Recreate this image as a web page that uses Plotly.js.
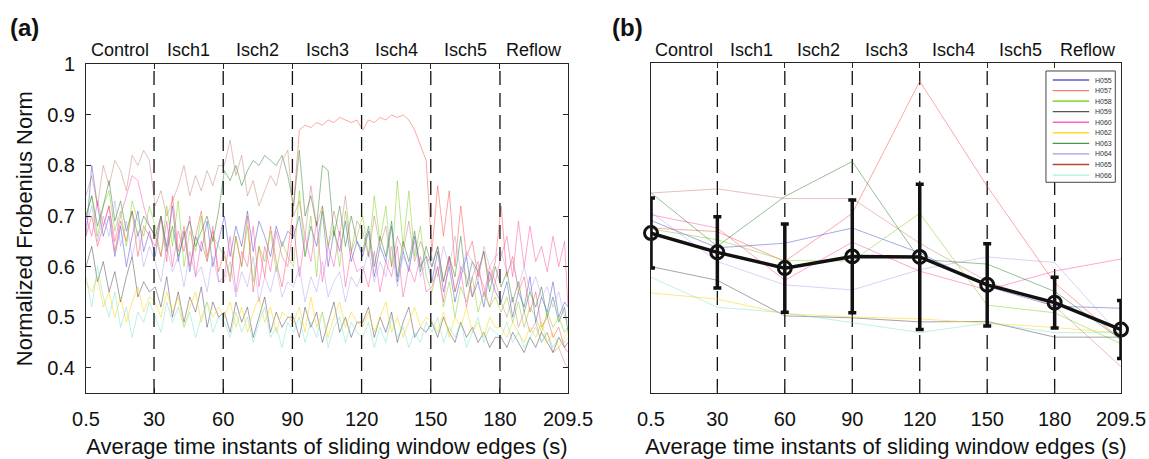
<!DOCTYPE html>
<html>
<head>
<meta charset="utf-8">
<script src="https://cdn.plot.ly/plotly-3.0.1.min.js"></script>
<style>html,body{margin:0;padding:0;background:#fff;}#chart{width:1149px;height:459px;}</style>
</head>
<body>
<div id="chart"></div>
<script>
// ---------- DATA ----------
const seriesNames = ["H055","H057","H058","H059","H060","H062","H063","H064","H065","H066"];
const phaseNames = ["Control","Isch1","Isch2","Isch3","Isch4","Isch5","Reflow"];
const phaseEdges = [0.5, 30, 60, 90, 120, 150, 180, 209.5];
const tickVals = [0.5, 30, 60, 90, 120, 150, 180, 209.5];
const tickText = ["0.5","30","60","90","120","150","180","209.5"];
const yTickVals = [0.4, 0.5, 0.6, 0.7, 0.8, 0.9, 1.0];
const yTickText = ["0.4","0.5","0.6","0.7","0.8","0.9","1"];

// panel (a): sliding-window time instants (0.5 s .. 209.5 s)
const timeA = [];
for (let k = 0; k < 84; k++) timeA.push(0.5 + 2.5 * k);
timeA.push(209.5);

const H055a = [0.66,0.80,0.72,0.66,0.70,0.62,0.68,0.60,0.66,0.71,0.63,0.67,
  0.62,0.70,0.64,0.72,0.61,0.67,0.59,0.66,0.63,0.69,0.60,0.65,
  0.70,0.62,0.68,0.64,0.71,0.63,0.69,0.66,0.62,0.68,0.64,0.67,
  0.66,0.70,0.62,0.68,0.64,0.71,0.60,0.67,0.63,0.69,0.61,0.65,
  0.62,0.67,0.58,0.64,0.61,0.68,0.57,0.63,0.59,0.66,0.60,0.62,
  0.57,0.63,0.55,0.60,0.53,0.58,0.62,0.54,0.57,0.52,0.59,0.55,
  0.53,0.57,0.50,0.55,0.52,0.58,0.49,0.54,0.51,0.57,0.50,0.53,0.52];
const H057a = [0.66,0.70,0.64,0.68,0.72,0.63,0.69,0.65,0.71,0.62,0.68,0.66,
  0.64,0.70,0.61,0.74,0.63,0.68,0.60,0.66,0.71,0.62,0.67,0.59,
  0.63,0.57,0.66,0.60,0.70,0.55,0.64,0.58,0.68,0.61,0.56,0.63,
  0.72,0.87,0.88,0.875,0.885,0.88,0.89,0.885,0.895,0.89,0.885,0.89,
  0.87,0.89,0.885,0.895,0.89,0.90,0.895,0.90,0.89,0.87,0.84,0.81,
  0.63,0.76,0.66,0.75,0.60,0.72,0.62,0.65,0.58,0.63,0.57,0.61,
  0.72,0.58,0.62,0.55,0.58,0.51,0.55,0.48,0.50,0.46,0.48,0.44,0.43];
const H058a = [0.70,0.74,0.66,0.72,0.75,0.67,0.71,0.64,0.73,0.69,0.66,0.72,
  0.68,0.62,0.72,0.64,0.73,0.60,0.67,0.63,0.70,0.61,0.66,0.64,
  0.62,0.58,0.66,0.60,0.68,0.57,0.64,0.61,0.67,0.59,0.65,0.62,
  0.60,0.75,0.62,0.70,0.58,0.72,0.64,0.68,0.60,0.71,0.63,0.66,
  0.70,0.62,0.74,0.65,0.72,0.60,0.77,0.64,0.75,0.62,0.68,0.58,
  0.55,0.60,0.52,0.57,0.50,0.56,0.53,0.58,0.51,0.55,0.52,0.54,
  0.51,0.54,0.49,0.53,0.48,0.52,0.50,0.47,0.51,0.48,0.50,0.47,0.48];
const H059a = [0.60,0.64,0.57,0.61,0.55,0.59,0.53,0.58,0.62,0.54,0.57,0.55,
  0.56,0.52,0.58,0.50,0.55,0.49,0.54,0.51,0.56,0.48,0.53,0.50,
  0.51,0.47,0.53,0.49,0.52,0.46,0.50,0.54,0.47,0.51,0.48,0.50,
  0.50,0.46,0.52,0.48,0.51,0.45,0.49,0.53,0.47,0.50,0.46,0.49,
  0.49,0.52,0.46,0.50,0.47,0.51,0.45,0.49,0.52,0.46,0.48,0.47,
  0.49,0.46,0.50,0.47,0.45,0.49,0.46,0.48,0.45,0.47,0.44,0.46,
  0.46,0.44,0.47,0.45,0.43,0.46,0.44,0.47,0.45,0.43,0.46,0.44,0.45];
const H060a = [0.70,0.66,0.73,0.68,0.72,0.65,0.70,0.74,0.78,0.77,0.72,0.68,
  0.66,0.62,0.69,0.60,0.67,0.63,0.70,0.58,0.65,0.61,0.68,0.57,
  0.58,0.66,0.55,0.63,0.60,0.68,0.56,0.64,0.59,0.67,0.62,0.60,
  0.68,0.58,0.66,0.61,0.69,0.57,0.64,0.60,0.67,0.56,0.63,0.59,
  0.60,0.56,0.63,0.55,0.61,0.58,0.64,0.54,0.60,0.57,0.62,0.55,
  0.56,0.60,0.53,0.62,0.55,0.59,0.52,0.58,0.61,0.54,0.60,0.57,
  0.62,0.66,0.58,0.69,0.60,0.68,0.61,0.64,0.59,0.66,0.60,0.65,0.52];
const H062a = [0.57,0.55,0.58,0.52,0.55,0.50,0.54,0.49,0.53,0.56,0.51,0.54,
  0.53,0.50,0.55,0.51,0.54,0.48,0.52,0.55,0.49,0.53,0.50,0.52,
  0.50,0.53,0.48,0.52,0.47,0.51,0.54,0.49,0.52,0.47,0.51,0.50,
  0.49,0.52,0.47,0.54,0.48,0.51,0.46,0.50,0.53,0.48,0.51,0.49,
  0.48,0.51,0.47,0.50,0.53,0.47,0.50,0.46,0.49,0.52,0.48,0.50,
  0.49,0.47,0.51,0.46,0.50,0.48,0.52,0.47,0.49,0.46,0.50,0.48,
  0.48,0.46,0.49,0.47,0.45,0.48,0.46,0.49,0.45,0.47,0.44,0.46,0.47];
const H063a = [0.70,0.74,0.68,0.72,0.77,0.69,0.73,0.67,0.71,0.66,0.70,0.68,
  0.66,0.70,0.63,0.68,0.62,0.66,0.69,0.64,0.67,0.70,0.65,0.71,
  0.79,0.77,0.80,0.76,0.79,0.81,0.80,0.82,0.81,0.80,0.82,0.78,
  0.72,0.83,0.70,0.74,0.68,0.80,0.79,0.66,0.72,0.64,0.70,0.65,
  0.63,0.68,0.60,0.66,0.62,0.69,0.58,0.65,0.61,0.67,0.59,0.64,
  0.60,0.64,0.57,0.62,0.58,0.66,0.56,0.61,0.59,0.63,0.55,0.60,
  0.56,0.59,0.53,0.57,0.51,0.55,0.52,0.56,0.50,0.54,0.49,0.52,0.47];
const H064a = [0.68,0.72,0.65,0.70,0.66,0.73,0.64,0.69,0.62,0.67,0.60,0.64,
  0.61,0.57,0.64,0.59,0.62,0.56,0.63,0.58,0.60,0.55,0.62,0.57,
  0.57,0.61,0.54,0.59,0.56,0.62,0.53,0.58,0.55,0.60,0.54,0.57,
  0.56,0.60,0.53,0.58,0.55,0.61,0.54,0.57,0.59,0.53,0.58,0.56,
  0.59,0.63,0.57,0.61,0.58,0.64,0.56,0.62,0.60,0.65,0.58,0.61,
  0.62,0.58,0.64,0.60,0.66,0.59,0.63,0.61,0.57,0.64,0.60,0.62,
  0.63,0.59,0.61,0.56,0.60,0.55,0.58,0.54,0.56,0.52,0.55,0.50,0.49];
const H065a = [0.74,0.78,0.72,0.80,0.76,0.81,0.79,0.75,0.82,0.80,0.83,0.81,
  0.72,0.75,0.70,0.73,0.76,0.80,0.74,0.78,0.75,0.79,0.76,0.80,
  0.80,0.85,0.78,0.82,0.74,0.77,0.72,0.75,0.78,0.76,0.81,0.83,
  0.70,0.73,0.66,0.76,0.68,0.72,0.64,0.71,0.66,0.74,0.63,0.69,
  0.67,0.62,0.70,0.64,0.68,0.60,0.66,0.63,0.69,0.61,0.65,0.62,
  0.60,0.64,0.57,0.62,0.55,0.60,0.58,0.54,0.59,0.56,0.52,0.57,
  0.53,0.50,0.54,0.48,0.51,0.47,0.49,0.45,0.47,0.43,0.44,0.41,0.40];
const H066a = [0.58,0.52,0.60,0.54,0.50,0.55,0.48,0.52,0.46,0.51,0.49,0.53,
  0.50,0.47,0.53,0.49,0.52,0.48,0.51,0.46,0.50,0.53,0.47,0.50,
  0.49,0.46,0.51,0.47,0.50,0.45,0.49,0.52,0.46,0.48,0.44,0.49,
  0.47,0.50,0.45,0.49,0.46,0.51,0.44,0.48,0.50,0.45,0.49,0.47,
  0.46,0.49,0.44,0.48,0.45,0.50,0.46,0.48,0.44,0.47,0.45,0.49,
  0.47,0.50,0.45,0.48,0.46,0.49,0.44,0.47,0.50,0.45,0.48,0.47,
  0.46,0.49,0.45,0.47,0.44,0.46,0.48,0.45,0.47,0.44,0.46,0.45,0.46];

// panel (b): values at the phase edges
const timeB = [0.5, 30, 60, 90, 120, 150, 180, 209.5];
const H055b = [0.690,0.636,0.645,0.675,0.626,0.560,0.521,0.517];
const H057b = [0.675,0.668,0.609,0.704,0.964,0.757,0.567,0.455];
const H058b = [0.673,0.652,0.611,0.610,0.704,0.523,0.508,0.447];
const H059b = [0.599,0.572,0.502,0.498,0.490,0.491,0.460,0.460];
const H060b = [0.701,0.675,0.572,0.647,0.590,0.553,0.590,0.614];
const H062b = [0.547,0.535,0.506,0.500,0.496,0.488,0.479,0.468];
const H063b = [0.744,0.639,0.737,0.806,0.613,0.604,0.550,0.455];
const H064b = [0.706,0.609,0.563,0.553,0.593,0.618,0.607,0.462];
const H065b = [0.744,0.752,0.733,0.733,0.645,0.570,0.521,0.402];
const H066b = [0.578,0.519,0.508,0.488,0.469,0.488,0.469,0.469];
const meanB = [0.665,0.627,0.596,0.619,0.618,0.563,0.528,0.475];
const errB  = [0.069,0.070,0.087,0.111,0.143,0.081,0.050,0.057];

// ---------- STYLE ----------
const seriesA = [H055a,H057a,H058a,H059a,H060a,H062a,H063a,H064a,H065a,H066a];
const seriesB = [H055b,H057b,H058b,H059b,H060b,H062b,H063b,H064b,H065b,H066b];
const lineColors = ["rgba(80,80,205,0.5)","rgba(255,80,80,0.5)","rgba(110,205,0,0.45)",
  "rgba(50,50,70,0.45)","rgba(255,80,170,0.5)","rgba(255,210,0,0.5)","rgba(50,130,50,0.5)",
  "rgba(160,140,235,0.4)","rgba(175,80,60,0.35)","rgba(110,225,195,0.45)"];
const legendColors = ["#5e5ec8","#ff7a7a","#66cc00","#555555","#ff66bb","#ffd200",
  "#4e944e","#a69ce0","#b04a3c","#a8f0dc"];
const FONT = "Liberation Sans, Arial, Helvetica, sans-serif";
const AX = "#262626";

const traces = [];
seriesA.forEach((s, i) => {
  traces.push({x: timeA, y: s, xaxis: "x", yaxis: "y", type: "scatter", mode: "lines",
    line: {color: lineColors[i], width: 1}, name: seriesNames[i], showlegend: false, hoverinfo: "skip"});
});
seriesB.forEach((s, i) => {
  traces.push({x: timeB, y: s, xaxis: "x2", yaxis: "y2", type: "scatter", mode: "lines",
    line: {color: lineColors[i], width: 1}, name: seriesNames[i], showlegend: false});
});
traces.push({x: timeB, y: meanB, xaxis: "x2", yaxis: "y2", type: "scatter", mode: "none",
  error_y: {type: "data", array: errB, visible: true, color: "#111", thickness: 3.5, width: 4},
  showlegend: false, hoverinfo: "skip"});
traces.push({x: timeB, y: meanB, xaxis: "x2", yaxis: "y2", type: "scatter", mode: "lines+markers",
  cliponaxis: false, line: {color: "#111", width: 3.5},
  marker: {symbol: "circle-open", size: 13, color: "#111", line: {width: 3, color: "#111"}},
  name: "mean", showlegend: false});

// ---------- LAYOUT ----------
const shapes = [];
const annotations = [];
const inner = phaseEdges.slice(1, -1);
inner.forEach(e => {
  shapes.push({type: "line", xref: "x", yref: "y domain", x0: e, x1: e, y0: 0, y1: 1,
    line: {color: "#111", width: 1.3, dash: "14px,8px"}, layer: "above"});
  shapes.push({type: "line", xref: "x2", yref: "y2 domain", x0: e, x1: e, y0: 0, y1: 1,
    line: {color: "#111", width: 1.3, dash: "14px,8px"}, layer: "below"});
});
phaseNames.forEach((p, i) => {
  const c = (phaseEdges[i] + phaseEdges[i + 1]) / 2;
  ["x", "x2"].forEach(ax => {
    annotations.push({text: p, xref: ax, yref: "paper", x: c, y: 1.039, yanchor: "middle",
      xanchor: "center", showarrow: false, font: {family: FONT, size: 18, color: "#111"}});
  });
});
annotations.push({text: "<b>(a)</b>", xref: "paper", yref: "paper", x: -0.0754, y: 1.109,
  xanchor: "left", yanchor: "middle", showarrow: false, font: {family: FONT, size: 24, color: "#111"}});
annotations.push({text: "<b>(b)</b>", xref: "paper", yref: "paper", x: 0.5063, y: 1.109,
  xanchor: "left", yanchor: "middle", showarrow: false, font: {family: FONT, size: 24, color: "#111"}});

// manual compact legend inside panel (b)
shapes.push({type: "rect", xref: "paper", yref: "paper", x0: 0.9275, x1: 0.9945, y0: 0.6385, y1: 0.9758,
  line: {color: "#444", width: 1}, fillcolor: "#fff", layer: "above"});
seriesNames.forEach((n, i) => {
  const yy = (313 - i * 10.56) / 330;
  shapes.push({type: "line", xref: "paper", yref: "paper", x0: 0.9340, x1: 0.9693, y0: yy, y1: yy,
    line: {color: legendColors[i], width: 1.3}, layer: "above"});
  annotations.push({text: n, xref: "paper", yref: "paper", x: 0.9727, y: yy, xanchor: "left",
    yanchor: "middle", showarrow: false, font: {family: FONT, size: 7, color: "#333"}});
});

const xCommon = {range: [0.5, 209.5], tickvals: tickVals, ticktext: tickText, ticks: "inside",
  ticklen: 5, tickcolor: AX, showline: true, linecolor: AX, linewidth: 1, mirror: "ticks",
  showgrid: false, zeroline: false, tickfont: {family: FONT, size: 20, color: "#111"},
  ticklabelstandoff: 8,
  title: {text: "Average time instants of sliding window edges (s)", font: {family: FONT, size: 22, color: "#111"}, standoff: 12}};

const layout = {
  width: 1149, height: 459,
  margin: {l: 86, r: 28, t: 63, b: 66},
  paper_bgcolor: "#fff", plot_bgcolor: "#fff",
  showlegend: false,
  xaxis: Object.assign({}, xCommon, {domain: [0, 0.4657], anchor: "y"}),
  xaxis2: Object.assign({}, xCommon, {domain: [0.5459, 1], anchor: "y2"}),
  yaxis: {domain: [0, 0.9958], range: [0.35, 1.0], anchor: "x", tickvals: yTickVals, ticktext: yTickText,
    ticks: "inside", ticklen: 5, tickcolor: AX, showline: true, linecolor: AX, linewidth: 1, mirror: "ticks",
    showgrid: false, zeroline: false, tickfont: {family: FONT, size: 20, color: "#111"}, ticklabelstandoff: 6,
    title: {text: "Normalized Frobenius Norm", font: {family: FONT, size: 22, color: "#111"}, standoff: 8}},
  yaxis2: {domain: [0, 1], range: [0.35, 1.0], anchor: "x2", showticklabels: false, ticks: "",
    showline: true, linecolor: AX, linewidth: 1, mirror: true, showgrid: false, zeroline: false},
  shapes: shapes,
  annotations: annotations,
  font: {family: FONT, color: "#111"}
};

Plotly.newPlot("chart", traces, layout, {displayModeBar: false, staticPlot: true});
</script>
</body>
</html>
